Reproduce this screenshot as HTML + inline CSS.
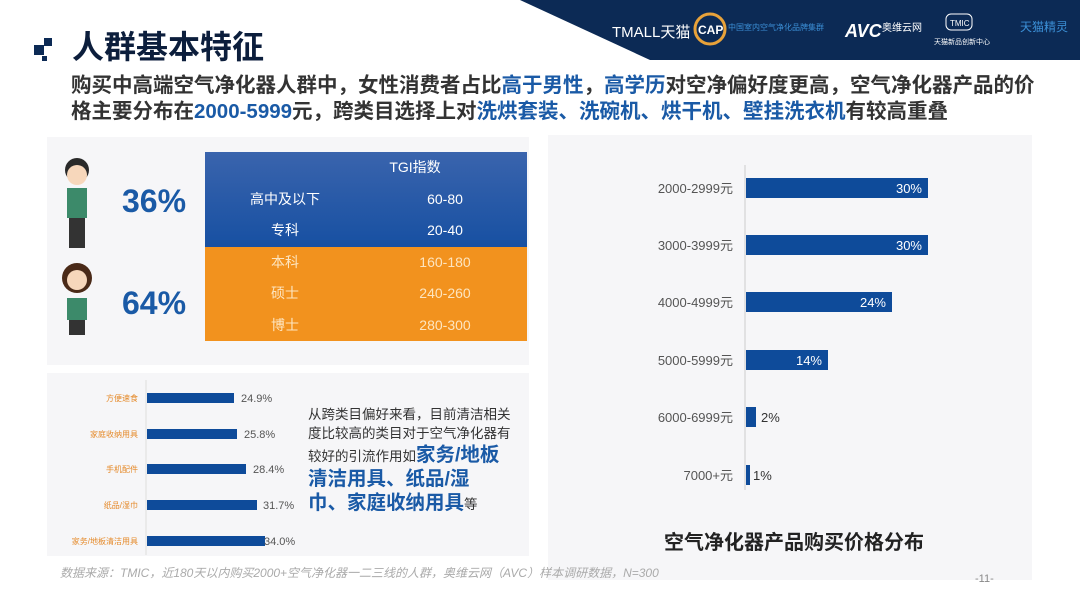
<!DOCTYPE html>
<html><head><meta charset="utf-8"><style>
*{margin:0;padding:0;box-sizing:border-box}
body{width:1080px;height:608px;overflow:hidden;background:#fff;position:relative;font-family:"Liberation Sans","Noto Sans CJK SC",sans-serif}
.a{position:absolute}
.b{color:#1a5aa6}
</style></head><body>
<svg class="a" style="left:0;top:0" width="1080" height="62">
<polygon points="520,0 1080,0 1080,60 650,60" fill="#0c2a55"/>
<text x="612" y="37" fill="#fff" font-size="15" font-family="Liberation Sans,Noto Sans CJK SC,sans-serif">TMALL天猫</text>
<circle cx="710" cy="29" r="15" fill="none" stroke="#e8a23a" stroke-width="3"/>
<text x="698" y="34" fill="#fff" font-size="12" font-weight="bold">CAP</text>
<text x="728" y="30" fill="#3b8fd6" font-size="8" font-family="Noto Sans CJK SC,sans-serif">中国室内空气净化品牌集群</text>
<text x="845" y="37" fill="#fff" font-size="18" font-weight="bold" font-style="italic">AVC</text>
<text x="882" y="31" fill="#fff" font-size="10" font-family="Noto Sans CJK SC,sans-serif">奥维云网</text>
<rect x="946" y="14" width="26" height="16" rx="5" fill="none" stroke="#fff"/>
<text x="950" y="26" fill="#fff" font-size="8">TMIC</text>
<text x="934" y="44" fill="#fff" font-size="7" font-family="Noto Sans CJK SC,sans-serif">天猫新品创新中心</text>
<text x="1020" y="31" fill="#3b8fd6" font-size="12" font-family="Noto Sans CJK SC,sans-serif">天猫精灵</text>
</svg>
<div class="a" style="left:34px;top:45px;width:10px;height:10px;background:#0c2a55"></div>
<div class="a" style="left:44px;top:38px;width:8px;height:8px;background:#0c2a55"></div>
<div class="a" style="left:42px;top:56px;width:5px;height:5px;background:#0c2a55"></div>
<div class="a" style="left:72px;top:22px;font-size:32px;font-weight:bold;color:#0c1e3c">人群基本特征</div>
<div class="a" style="left:71px;top:73px;white-space:nowrap;font-size:20.5px;font-weight:bold;color:#333;line-height:26px">购买中高端空气净化器人群中，女性消费者占比<span class="b">高于男性</span>，<span class="b">高学历</span>对空净偏好度更高，空气净化器产品的价<br>格主要分布在<span class="b">2000-5999</span>元，跨类目选择上对<span class="b">洗烘套装、洗碗机、烘干机、壁挂洗衣机</span>有较高重叠</div>

<div class="a" style="left:47px;top:137px;width:482px;height:228px;background:#f6f6f8"></div>
<div class="a" style="left:47px;top:373px;width:482px;height:183px;background:#f6f6f8"></div>
<div class="a" style="left:548px;top:135px;width:484px;height:445px;background:#f6f6f8"></div>

<svg class="a" style="left:55px;top:150px" width="50" height="210">
<circle cx="22" cy="20" r="12" fill="#2a2a2a"/><circle cx="22" cy="25" r="10" fill="#f7d7bb"/>
<rect x="12" y="38" width="20" height="30" fill="#3c8a6a"/><rect x="14" y="68" width="16" height="30" fill="#333"/>
<circle cx="22" cy="128" r="15" fill="#4a2a18"/><circle cx="22" cy="130" r="10" fill="#f7d7bb"/>
<rect x="12" y="148" width="20" height="22" fill="#3c8a6a"/><rect x="14" y="170" width="16" height="15" fill="#333"/>
</svg>
<div class="a b" style="left:122px;top:183px;font-size:32px;font-weight:bold">36%</div>
<div class="a b" style="left:122px;top:285px;font-size:32px;font-weight:bold">64%</div>
<div class="a" style="left:205px;top:152px;width:322px;height:95px;background:linear-gradient(#3a64ad,#1750a2)"></div>
<div class="a" style="left:205px;top:247px;width:322px;height:94px;background:#f2921e"></div>
<div class="a" style="left:205px;top:152px;width:322px;font-size:14px;color:#fff;line-height:31.5px">
<div style="display:flex"><span style="width:135px"></span><span style="width:150px;text-align:center">TGI指数</span></div>
<div style="display:flex"><span style="width:160px;text-align:center">高中及以下</span><span style="width:160px;text-align:center">60-80</span></div>
<div style="display:flex"><span style="width:160px;text-align:center">专科</span><span style="width:160px;text-align:center">20-40</span></div>
<div style="display:flex;color:#fde5c0"><span style="width:160px;text-align:center">本科</span><span style="width:160px;text-align:center">160-180</span></div>
<div style="display:flex;color:#fde5c0"><span style="width:160px;text-align:center">硕士</span><span style="width:160px;text-align:center">240-260</span></div>
<div style="display:flex;color:#fde5c0"><span style="width:160px;text-align:center">博士</span><span style="width:160px;text-align:center">280-300</span></div>
</div>

<svg class="a" style="left:0;top:0" width="1080" height="608" font-family="Liberation Sans,Noto Sans CJK SC,sans-serif">
<line x1="146" y1="380" x2="146" y2="555" stroke="#ddd"/>
<g fill="#e58a2a" font-size="8" text-anchor="end">
<text x="138" y="401">方便速食</text><text x="138" y="437">家庭收纳用具</text><text x="138" y="472">手机配件</text><text x="138" y="508">纸品/湿巾</text><text x="138" y="544">家务/地板清洁用具</text></g>
<g fill="#0e4b9a"><rect x="147" y="393" width="87" height="10"/><rect x="147" y="429" width="90" height="10"/><rect x="147" y="464" width="99" height="10"/><rect x="147" y="500" width="110" height="10"/><rect x="147" y="536" width="118" height="10"/></g>
<g fill="#555" font-size="11"><text x="241" y="402">24.9%</text><text x="244" y="438">25.8%</text><text x="253" y="473">28.4%</text><text x="263" y="509">31.7%</text><text x="264" y="545">34.0%</text></g>
<line x1="745" y1="165" x2="745" y2="490" stroke="#ccc"/>
<g fill="#555" font-size="13" text-anchor="end"><text x="733" y="193">2000-2999元</text><text x="733" y="250">3000-3999元</text><text x="733" y="307">4000-4999元</text><text x="733" y="365">5000-5999元</text><text x="733" y="422">6000-6999元</text><text x="733" y="480">7000+元</text></g>
<g fill="#0e4b9a"><rect x="746" y="178" width="182" height="20"/><rect x="746" y="235" width="182" height="20"/><rect x="746" y="292" width="146" height="20"/><rect x="746" y="350" width="82" height="20"/><rect x="746" y="407" width="10" height="20"/><rect x="746" y="465" width="4" height="20"/></g>
<g fill="#fff" font-size="13" text-anchor="end"><text x="922" y="193">30%</text><text x="922" y="250">30%</text><text x="886" y="307">24%</text><text x="822" y="365">14%</text></g>
<g fill="#333" font-size="13"><text x="761" y="422">2%</text><text x="753" y="480">1%</text></g>
</svg>
<div class="a" style="left:308px;top:405px;white-space:nowrap;font-size:13.5px;color:#333;line-height:19px">从跨类目偏好来看，目前清洁相关<br>度比较高的类目对于空气净化器有<br>较好的引流作用如<b class="b" style="font-size:19.5px;line-height:24px">家务/地板<br>清洁用具、纸品/湿<br>巾、家庭收纳用具</b>等</div>
<div class="a" style="left:664px;top:526px;font-size:20px;font-weight:bold;color:#222">空气净化器产品购买价格分布</div>
<div class="a" style="left:60px;top:564px;font-size:12px;color:#aaa;font-style:italic">数据来源：TMIC，近180天以内购买2000+空气净化器一二三线的人群，奥维云网（AVC）样本调研数据，N=300</div>
<div class="a" style="left:975px;top:573px;font-size:11px;color:#888">-11-</div>
</body></html>
